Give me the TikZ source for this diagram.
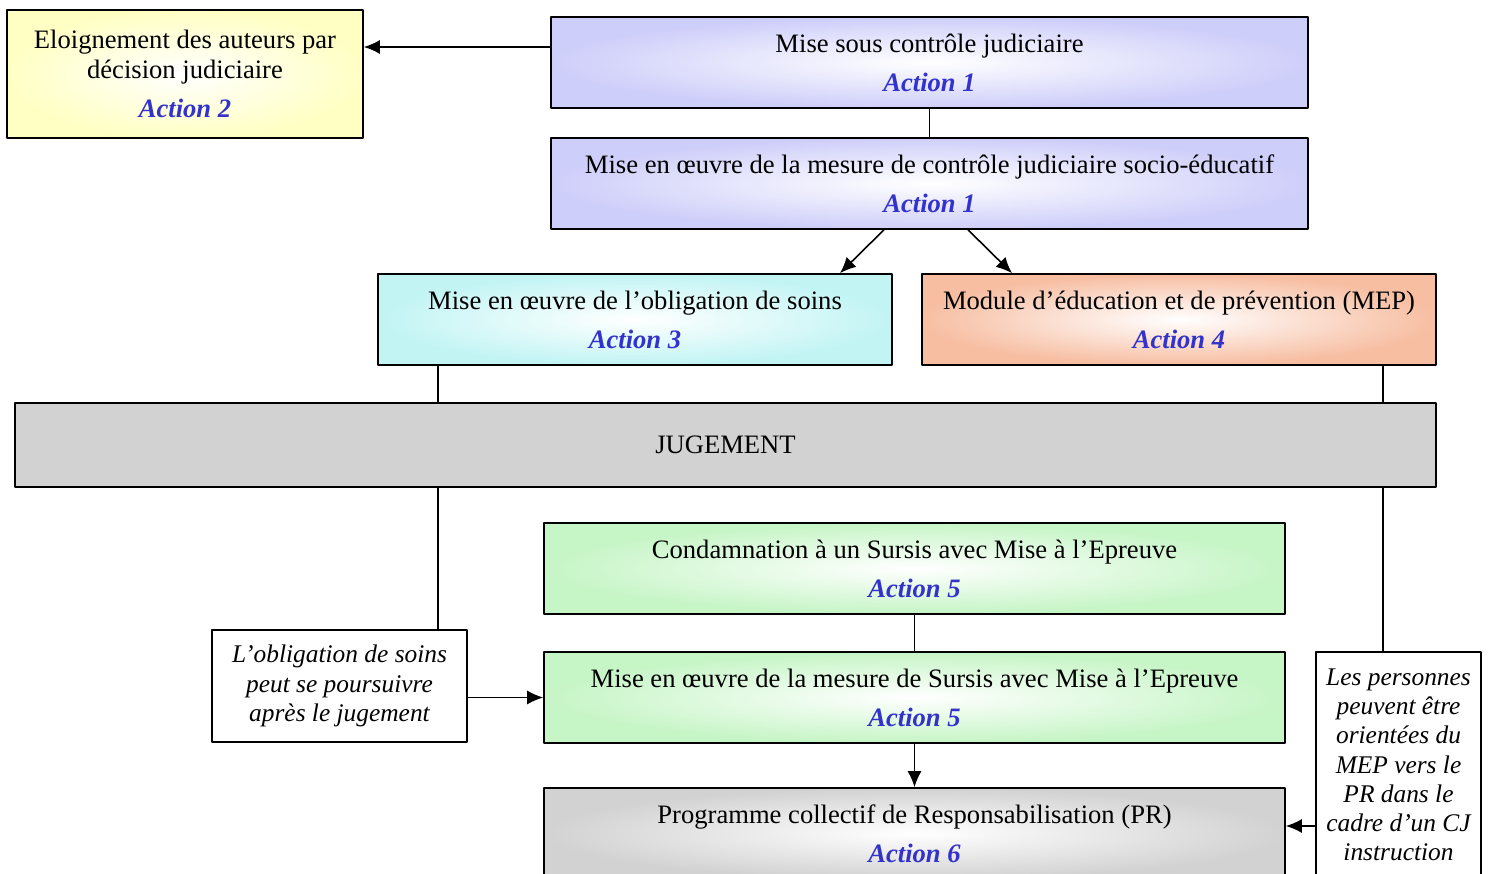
\documentclass[tikz,border=0pt]{standalone}
\usepackage{fontspec}
\setmainfont{Liberation Serif}
\usetikzlibrary{arrows.meta}
\definecolor{actblue}{RGB}{51,51,204}
\definecolor{yelbox}{RGB}{255,255,196}
\definecolor{lavbox}{RGB}{206,206,250}
\definecolor{cyabox}{RGB}{194,244,244}
\definecolor{salbox}{RGB}{247,190,162}
\definecolor{grebox}{RGB}{198,245,198}
\definecolor{grabox}{RGB}{210,210,210}
\newcommand{\actlabel}[1]{\\[4.5bp]\textcolor{actblue}{\textbf{\textit{Action #1}}}}
\begin{document}
\begin{tikzpicture}[>={Latex[length=8bp,width=7bp]},line join=bevel,
  box/.style={draw,line width=0.8pt,align=center,inner sep=0pt,
    font=\fontsize{13.3bp}{15bp}\selectfont,inner color=white},
  stdbox/.style={box,minimum height=45.5bp},
  notebox/.style={draw,line width=0.8pt,align=center,inner sep=0pt,fill=white,
    font=\fontsize{12.7bp}{14.6bp}\selectfont\itshape},
  link/.style={black,line width=0.8pt}]
%%
\useasboundingbox (0bp,0bp) rectangle (745bp,437bp);
\clip (0bp,0bp) rectangle (745bp,437bp);
\node (elo) at (92.5bp,400bp) [box,outer color=yelbox,minimum width=178bp,minimum height=64bp] {Eloignement des auteurs par\\d\'ecision judiciaire\actlabel{2}};
  \node (cj1) at (464.75bp,405.75bp) [stdbox,outer color=lavbox,minimum width=378.5bp] {Mise sous contr\^ole judiciaire\actlabel{1}};
  \node (cj2) at (464.75bp,345.25bp) [stdbox,outer color=lavbox,minimum width=378.5bp] {Mise en \oe uvre de la mesure de contr\^ole judiciaire socio-\'educatif\actlabel{1}};
  \node (soins) at (317.5bp,277.25bp) [stdbox,outer color=cyabox,minimum width=257bp] {Mise en \oe uvre de l’obligation de soins\actlabel{3}};
  \node (mep) at (589.5bp,277.25bp) [stdbox,outer color=salbox,minimum width=257bp] {Module d’\'education et de pr\'evention (MEP)\actlabel{4}};
  \node (jug) at (362.75bp,214.5bp) [box,fill=grabox,inner color=grabox,outer color=grabox,minimum width=710.5bp,minimum height=42bp] {JUGEMENT};
  \node (sme1) at (457.25bp,152.75bp) [stdbox,outer color=grebox,minimum width=370.5bp] {Condamnation \`a un Sursis avec Mise \`a l’Epreuve\actlabel{5}};
  \node (sme2) at (457.25bp,88.25bp) [stdbox,outer color=grebox,minimum width=370.5bp] {Mise en \oe uvre de la mesure de Sursis avec Mise \`a l’Epreuve\actlabel{5}};
  \node (pr) at (457.25bp,20.25bp) [stdbox,outer color=grabox,minimum width=370.5bp] {Programme collectif de Responsabilisation (PR)\actlabel{6}};
  \node (note1) at (169.75bp,94bp) [notebox,minimum width=127.5bp,minimum height=56bp] {L’obligation de soins\\peut se poursuivre\\apr\`es le jugement};
  \node (note2) at (699.25bp,54.5bp) [notebox,minimum width=82.5bp,minimum height=113bp] {Les personnes\\peuvent \^etre\\orient\'ees du\\MEP vers le\\PR dans le\\cadre d’un CJ\\instruction};
  \coordinate (cj1out) at ([yshift=7.75bp]cj1.west);
  \coordinate (soinsout) at ([xshift=-98.5bp]soins.south);
  \coordinate (mepout) at ([xshift=102bp]mep.south);
  \coordinate (prin) at ([yshift=3.75bp]pr.east);
  \draw [link,->] (cj1out) -- (cj1out -| elo.east);
  \draw [link] (cj1.south) -- (cj2.north);
  \draw [link,->] ([xshift=-22.75bp]cj2.south) -- ([xshift=102.5bp]soins.north);
  \draw [link,->] ([xshift=19.25bp]cj2.south) -- ([xshift=-83.5bp]mep.north);
  \draw [link] (soinsout) -- (soinsout |- jug.north);
  \draw [link] (soinsout |- jug.south) -- (soinsout |- note1.north);
  \draw [link] (mepout) -- (mepout |- jug.north);
  \draw [link] (mepout |- jug.south) -- (mepout |- note2.north);
  \draw [link] (sme1.south) -- (sme2.north);
  \draw [link,->] (note1.east |- sme2.west) -- (sme2.west);
  \draw [link,->] (sme2.south) -- (pr.north);
  \draw [link,->] (note2.west |- prin) -- (prin);
%
\end{tikzpicture}
\end{document}
